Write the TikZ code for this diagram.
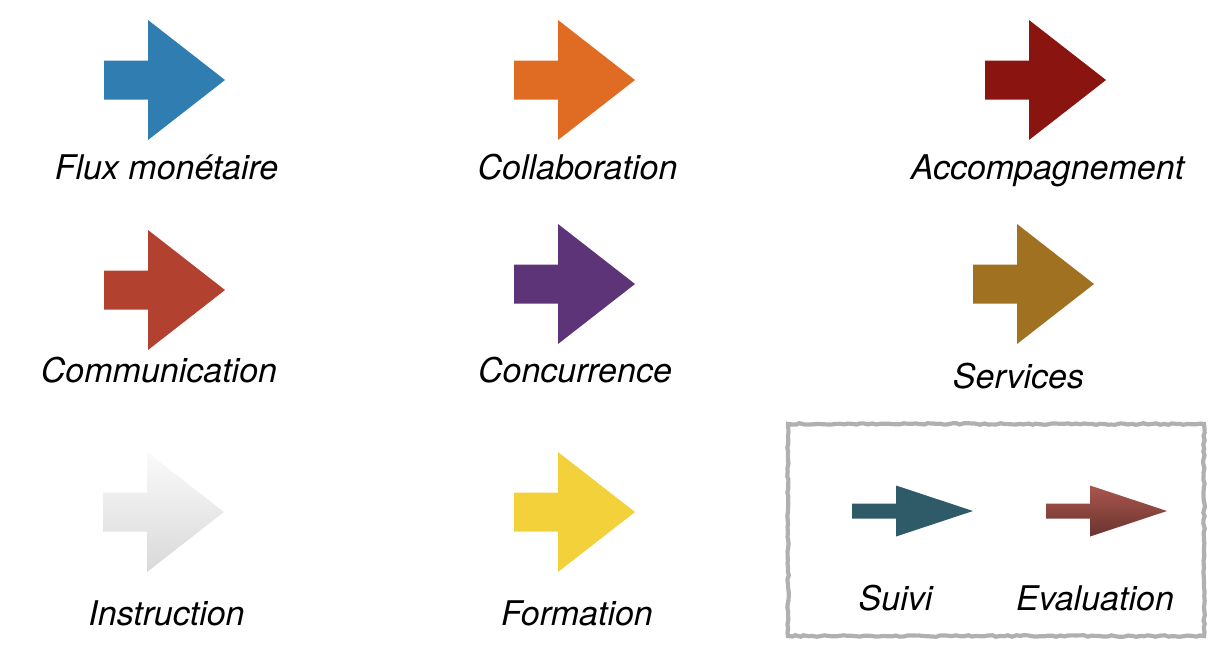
\documentclass[tikz,border=0pt]{standalone}
\usepackage{fontspec}
\setmainfont{TeX Gyre Heros}
\usetikzlibrary{shadows,decorations.pathmorphing}

\definecolor{cFlux}{HTML}{2F7DB1}
\definecolor{cCollab}{HTML}{E06B22}
\definecolor{cAccomp}{HTML}{8A1410}
\definecolor{cComm}{HTML}{B3412F}
\definecolor{cConc}{HTML}{5E3479}
\definecolor{cServ}{HTML}{A07120}
\definecolor{cForm}{HTML}{F2D13B}
\definecolor{cSuivi}{HTML}{2F5B68}
\definecolor{cEvalTop}{HTML}{A9574E}
\definecolor{cEvalBot}{HTML}{6A332E}

\tikzset{
 bigarrow/.pic={\path[pic actions] (0,-19.5)--(44,-19.5)--(44,-60)--(121,0)--(44,60)--(44,19.5)--(0,19.5)--cycle;},
 smallarrow/.pic={\path[pic actions] (0,-7.5)--(44,-7.5)--(44,-25.5)--(121,0)--(44,25.5)--(44,7.5)--(0,7.5)--cycle;},
 shad/.style={drop shadow={shadow xshift=.6pt,shadow yshift=-.8pt,opacity=.3}},
 lbl/.style={anchor=base,inner sep=0pt,font=\itshape\fontsize{17}{20}\selectfont},
 legendbox/.style={draw=gray!62,line width=2.1pt,decorate,
   decoration={random steps,segment length=2pt,amplitude=.4pt}}
}

\begin{document}
\begin{tikzpicture}[x=.5pt,y=-.5pt]
 \useasboundingbox (0,0) rectangle (1216,666);
 \pic[fill=cFlux,shad] (flux) at (104,80) {bigarrow};
 \pic[fill=cCollab,shad] (collab) at (514,80) {bigarrow};
 \pic[fill=cAccomp,shad] (accomp) at (985,80) {bigarrow};
 \pic[fill=cComm,shad] (comm) at (104,290) {bigarrow};
 \pic[fill=cConc,shad] (conc) at (514,284) {bigarrow};
 \pic[fill=cServ,shad] (serv) at (973,284) {bigarrow};
 \pic[top color=gray!4,bottom color=gray!30,shad] (instr) at (103,512) {bigarrow};
 \pic[fill=cForm,shad] (form) at (514,512) {bigarrow};
 \node[lbl] (fluxLbl) at (166.5,179) {Flux monétaire};
 \node[lbl] (collabLbl) at (577.5,179) {Collaboration};
 \node[lbl] (accompLbl) at (1047.5,179) {Accompagnement};
 \node[lbl] (commLbl) at (159,382) {Communication};
 \node[lbl] (concLbl) at (575,382) {Concurrence};
 \node[lbl] (servLbl) at (1018.5,388) {Services};
 \node[lbl] (instrLbl) at (166.5,625) {Instruction};
 \node[lbl] (formLbl) at (577,625) {Formation};
 \draw[legendbox] (788,424) rectangle (1204,636);
 \pic[fill=cSuivi] (suivi) at (852,511) {smallarrow};
 \pic[top color=cEvalTop,bottom color=cEvalBot] (eval) at (1046,511) {smallarrow};
 \node[lbl] (suiviLbl) at (895.5,610) {Suivi};
 \node[lbl] (evalLbl) at (1095,610) {Evaluation};
\end{tikzpicture}
\end{document}
